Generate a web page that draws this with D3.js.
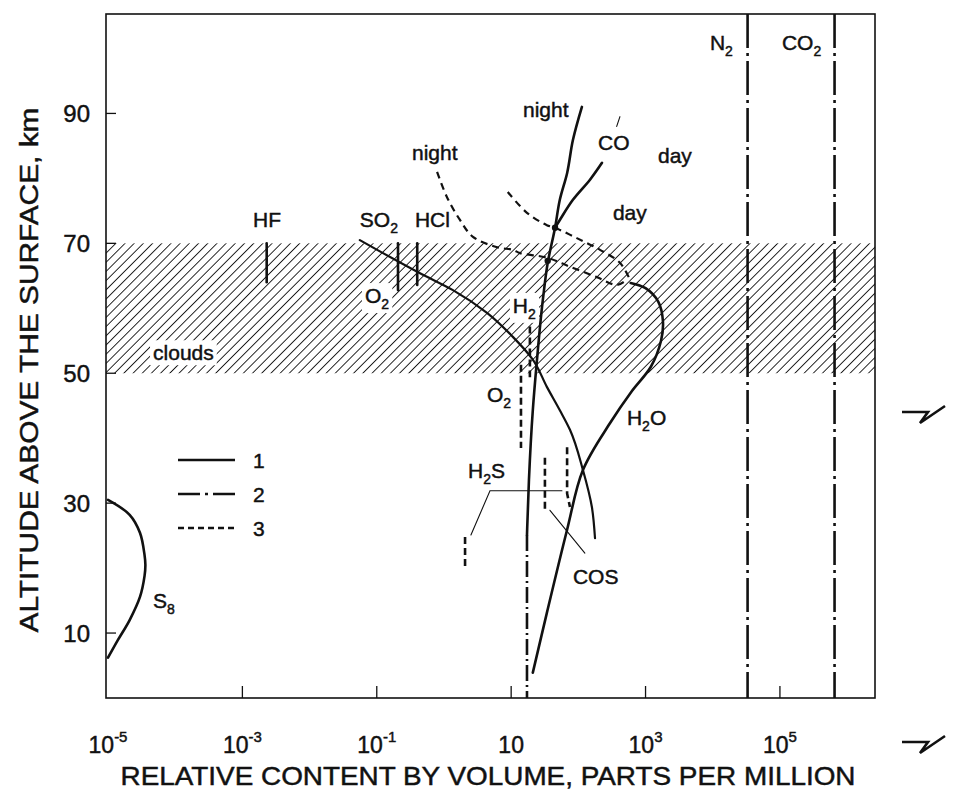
<!DOCTYPE html>
<html>
<head>
<meta charset="utf-8">
<script src="https://cdn.jsdelivr.net/npm/d3@7"></script>
<style>
  body { margin: 0; background: #fff; }
  text { font-family: "Liberation Sans", Arial, sans-serif; fill: #111; stroke: #111; stroke-width: 0.45px; }
</style>
</head>
<body>
<svg id="vis" width="953" height="791"></svg>
<script>
// ---- data (ppm by volume, altitude km) ----
const xTicks = [1e-5, 1e-3, 1e-1, 10, 1e3, 1e5];
const xTickSup = ['-5', '-3', '-1', '', '3', '5'];
const yTicks = [10, 30, 50, 70, 90];
const cloudLayer = [50, 70];

const s8 = [[1e-5, 30.5], [2.1e-5, 28.2], [3.0e-5, 25.4], [3.5e-5, 22.0], [3.6e-5, 20.5], [3.5e-5, 18.8],
  [3.0e-5, 15.6], [2.1e-5, 12.0], [1.4e-5, 8.9], [1e-5, 6.2]];
const o2Model = [[0.056, 70.5], [0.44, 65.4], [1.36, 62.8], [4.37, 59.3], [10.6, 55.6], [21, 52.1],
  [34, 47.9], [53, 44.3], [75, 41.3], [117, 35.1], [159, 29.4], [177, 24.6]];
const h2o = [[21, 3.9], [34, 13.1], [68, 25.9], [117, 35.1], [295, 42.3], [620, 47.2], [1200, 51.0],
  [1700, 55.0], [1815, 58.0], [1550, 61.0], [1000, 63.1], [600, 63.9]];
const coNight = [[113, 91.0], [83, 85.9], [68, 80.8], [53, 76.7], [45, 72.4], [35, 67.0], [30, 61.8],
  [24, 51.6], [21, 44.3], [18.4, 33.6], [17.2, 25.1]];
const coDay = [[45, 72.4], [53, 73.6], [83, 76.7], [149, 79.8], [225, 82.4]];
const coLow = [[17.2, 25.1], [17.2, 0]];
const nightDashed = [[0.79, 81.0], [1.11, 77.1], [1.73, 73.6], [2.7, 71.0], [6.2, 69.4], [10.6, 69.0],
  [13.5, 68.5], [34, 67.8], [75, 66.4], [189, 64.8], [375, 63.6], [528, 64.4]];
const dayDashed = [[8.9, 77.9], [17.2, 74.7], [34, 72.8], [45, 72.4], [95, 70.8], [210, 69.0],
  [416, 67.0], [586, 64.4]];
const junctions = [[45, 72.4], [35, 67.3]];

// short measured segments: [ppm, top km, bottom km]
const solidBars = [[2.3e-3, 70, 64.0], [0.207, 70, 62.8], [0.40, 70, 63.6]];
const dashedBars = [[14, 51.3, 38.5], [19, 57.2, 49.4], [2.06, 24.8, 20.2], [31.8, 37.0, 28.6]];
const cosBar2 = [[68, 38.6], [68, 31.5], [75, 29.4]];
const majorGases = [3.3e4, 6.5e5];

const leaders = [
  [[2.52, 25.1], [4.84, 31.9], [57, 31.9]],
  [[37.8, 28.9], [125, 22.3]],
  [[372, 88.0], [416, 89.5]]
];

// labels: [text, subscript, ppm (left edge), km (baseline), white backing]
const labels = [
  ['HF', '', 1.44e-3, 72.5, false],
  ['SO', '2', 0.056, 72.5, false],
  ['HCl', '', 0.37, 72.5, false],
  ['night', '', 0.334, 82.8, false],
  ['night', '', 15.0, 89.5, false],
  ['CO', '', 196, 84.4, false],
  ['day', '', 1530, 82.4, false],
  ['day', '', 327, 73.6, false],
  ['N', '2', 9080, 99.8, false],
  ['CO', '2', 1.07e5, 99.8, false],
  ['O', '2', 0.0667, 60.8, true],
  ['clouds', '', 4.68e-5, 52.0, true],
  ['H', '2', 10.6, 59.3, true],
  ['O', '2', 4.37, 45.6, false],
  ['H', '2O', 528, 42.0, false],
  ['H', '2S', 2.28, 33.9, false],
  ['COS', '', 83, 17.6, false],
  ['S', '8', 4.68e-5, 13.9, false]
];

const legendItems = ['1', '2', '3'];

// ---- layout ----
const svg = d3.select('#vis');
const frame = { left: 106, right: 875, top: 14, bottom: 698 };

const x = d3.scaleLog().domain([1e-5, Math.pow(10, 6.4)]).range([108, 874]);
const y = d3.scaleLinear().domain([0, 105]).range([698, 16]);

const smooth = d3.line()
  .x(d => x(d[0]))
  .y(d => y(d[1]))
  .curve(d3.curveMonotoneY);
const line = d3.line()
  .x(d => x(d[0]))
  .y(d => y(d[1]))
  .curve(d3.curveCatmullRom.alpha(0.5));
const straight = d3.line().x(d => x(d[0])).y(d => y(d[1]));

const DASH3 = '7,5';
const DASH2 = '34,5,3,5';

// hatch pattern for the cloud layer
const defs = svg.append('defs');
defs.append('pattern')
  .attr('id', 'hatch')
  .attr('patternUnits', 'userSpaceOnUse')
  .attr('width', 6.5)
  .attr('height', 6.5)
  .attr('patternTransform', 'rotate(45)')
  .append('line')
  .attr('x1', 0).attr('y1', 0).attr('x2', 0).attr('y2', 6.5)
  .attr('stroke', '#111')
  .attr('stroke-width', 1.8);

svg.append('rect')
  .attr('x', frame.left)
  .attr('y', y(cloudLayer[1]))
  .attr('width', frame.right - frame.left)
  .attr('height', y(cloudLayer[0]) - y(cloudLayer[1]))
  .attr('fill', 'url(#hatch)');

// frame
svg.append('rect')
  .attr('x', frame.left).attr('y', frame.top)
  .attr('width', frame.right - frame.left)
  .attr('height', frame.bottom - frame.top)
  .attr('fill', 'none').attr('stroke', '#111').attr('stroke-width', 1.6);

// ticks (inward)
svg.selectAll('line.xtick')
  .data(xTicks.slice(1))
  .enter().append('line')
  .attr('class', 'xtick')
  .attr('x1', d => x(d)).attr('x2', d => x(d))
  .attr('y1', frame.bottom).attr('y2', frame.bottom - 12)
  .attr('stroke', '#111').attr('stroke-width', 1.3);

svg.selectAll('line.ytick')
  .data(yTicks)
  .enter().append('line')
  .attr('class', 'ytick')
  .attr('x1', frame.left).attr('x2', frame.left + 10)
  .attr('y1', d => y(d)).attr('y2', d => y(d))
  .attr('stroke', '#111').attr('stroke-width', 1.3);

// tick labels
const xl = svg.selectAll('text.xl')
  .data(xTicks)
  .enter().append('text')
  .attr('class', 'xl')
  .attr('x', d => x(d))
  .attr('y', 753)
  .attr('text-anchor', 'middle')
  .style('font-size', '23px');
xl.append('tspan').text('10');
xl.append('tspan')
  .attr('dy', -11)
  .style('font-size', '15px')
  .text((d, i) => xTickSup[i]);

svg.selectAll('text.yl')
  .data(yTicks)
  .enter().append('text')
  .attr('class', 'yl')
  .attr('x', 90)
  .attr('y', d => y(d) + 9)
  .attr('text-anchor', 'end')
  .style('font-size', '24px')
  .text(d => d);

// axis titles
svg.append('text')
  .attr('transform', 'translate(38,370) rotate(-90)')
  .attr('text-anchor', 'middle')
  .attr('textLength', 525)
  .attr('lengthAdjust', 'spacingAndGlyphs')
  .style('font-size', '25px')
  .text('ALTITUDE ABOVE THE SURFACE, km');

svg.append('text')
  .attr('x', 488)
  .attr('y', 785)
  .attr('text-anchor', 'middle')
  .attr('textLength', 735)
  .attr('lengthAdjust', 'spacingAndGlyphs')
  .style('font-size', '25px')
  .text('RELATIVE CONTENT BY VOLUME, PARTS PER MILLION');

// white backing + labels
labels.forEach(l => {
  const t = svg.append('text')
    .attr('x', x(l[2]))
    .attr('y', y(l[3]))
    .style('font-size', '21px');
  t.append('tspan').text(l[0]);
  if (l[1]) {
    t.append('tspan').attr('dy', 6).style('font-size', '14px').text(l[1][0]);
    if (l[1].length > 1) {
      t.append('tspan').attr('dy', -6).style('font-size', '21px').text(l[1].slice(1));
    }
  }
  if (l[4]) {
    const b = t.node().getBBox();
    svg.insert('rect', 'text')
      .attr('x', b.x - 3).attr('y', b.y - 1)
      .attr('width', b.width + 6).attr('height', b.height + 2)
      .attr('fill', '#fff');
  }
});

// solid profiles
const g = svg.append('g').attr('fill', 'none').attr('stroke', '#111').attr('stroke-linecap', 'round');

[s8, h2o, coDay].forEach(p => {
  g.append('path').attr('d', line(p)).attr('stroke-width', 2.6);
});
g.append('path').attr('d', smooth(coNight)).attr('stroke-width', 2.6);
g.append('path').attr('d', smooth(o2Model)).attr('stroke-width', 2.2);

g.selectAll('line.sbar')
  .data(solidBars)
  .enter().append('line')
  .attr('x1', d => x(d[0])).attr('x2', d => x(d[0]))
  .attr('y1', d => y(d[1])).attr('y2', d => y(d[2]))
  .attr('stroke-width', 2.6);

// dashed (3) profiles
[nightDashed, dayDashed].forEach(p => {
  g.append('path').attr('d', line(p))
    .attr('stroke-width', 2.2)
    .attr('stroke-linecap', 'butt')
    .attr('stroke-dasharray', DASH3);
});

g.selectAll('line.dbar')
  .data(dashedBars)
  .enter().append('line')
  .attr('x1', d => x(d[0])).attr('x2', d => x(d[0]))
  .attr('y1', d => y(d[1])).attr('y2', d => y(d[2]))
  .attr('stroke-width', 2.6)
  .attr('stroke-linecap', 'butt')
  .attr('stroke-dasharray', '7,4');

g.append('path').attr('d', straight(cosBar2))
  .attr('stroke-width', 2.6)
  .attr('stroke-linecap', 'butt')
  .attr('stroke-dasharray', '7,4');

// dash-dot (2)
g.append('path').attr('d', straight(coLow))
  .attr('stroke-width', 2.6)
  .attr('stroke-linecap', 'butt')
  .attr('stroke-dasharray', '16,4,2,4');

g.selectAll('line.major')
  .data(majorGases)
  .enter().append('line')
  .attr('x1', d => x(d)).attr('x2', d => x(d))
  .attr('y1', frame.top).attr('y2', frame.bottom)
  .attr('stroke-width', 2.6)
  .attr('stroke-linecap', 'butt')
  .attr('stroke-dasharray', DASH2);

// leader lines
leaders.forEach(p => {
  g.append('path').attr('d', straight(p)).attr('stroke-width', 1.1);
});

svg.selectAll('circle.junction')
  .data(junctions)
  .enter().append('circle')
  .attr('cx', d => x(d[0])).attr('cy', d => y(d[1]))
  .attr('r', 3.2).attr('fill', '#111');

// legend
const legend = svg.append('g').attr('transform', 'translate(178,460)');
const dashes = [null, '22,5,3,5', '6,4'];
legendItems.forEach((k, i) => {
  legend.append('line')
    .attr('x1', 0).attr('x2', 57)
    .attr('y1', i * 34).attr('y2', i * 34)
    .attr('stroke', '#111').attr('stroke-width', 2.6)
    .attr('stroke-dasharray', dashes[i]);
  legend.append('text')
    .attr('x', 75).attr('y', i * 34 + 8)
    .style('font-size', '21px')
    .text(k);
});

// axis break marks on the right
const breaks = svg.append('g').attr('fill', 'none').attr('stroke', '#111').attr('stroke-width', 2.6);
[412, 742].forEach(by => {
  breaks.append('path')
    .attr('d', `M902,${by} L928,${by} L920,${by + 11} L945,${by - 6}`);
});
</script>
</body>
</html>
